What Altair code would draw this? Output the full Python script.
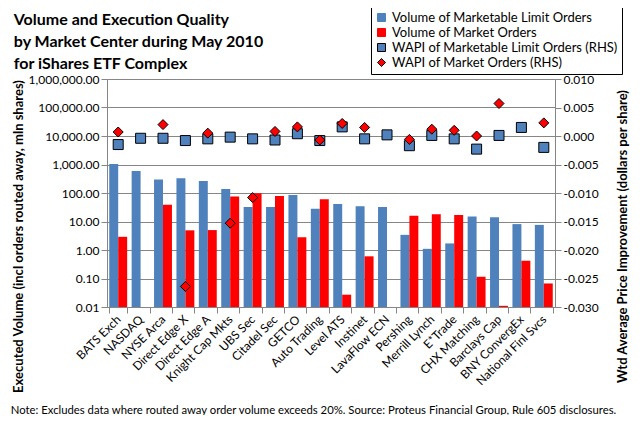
import altair as alt
import pandas as pd

categories = ["BATS Exch", "NASDAQ", "NYSE Arca", "Direct Edge X", "Direct Edge A",
              "Knight Cap Mkts", "UBS Sec", "Citadel Sec", "GETCO", "Auto Trading",
              "Level ATS", "Instinet", "LavaFlow ECN", "Pershing", "Merrill Lynch",
              "E*Trade", "CHX Matching", "Barclays Cap", "BNY ConvergEx", "National Finl Svcs"]

mlo_volume = [1050, 590, 300, 330, 265, 138, 32, 32, 85, 28,
              41, 34, 32, 3.4, 1.1, 1.7, 15, 14, 8.1, 7.6]
mo_volume = [2.9, None, 39, 4.9, 5.0, 75, 98, 78, 2.8, 60,
             0.027, 0.6, None, 16, 18, 17, 0.115, 0.011, 0.42, 0.067]
mlo_wapi = [-0.0015, -0.0004, -0.0004, -0.0008, -0.0005, -0.0002, -0.0005, -0.0007, 0.0004, -0.0008,
            0.0016, -0.0005, 0.0002, -0.0017, 0.0001, -0.0005, -0.0023, 0.0001, 0.0015, -0.0020]
mo_wapi = [0.0007, None, 0.0020, -0.0264, 0.0005, -0.0153, -0.0108, 0.0008, 0.0016, -0.0007,
           0.0022, 0.0015, None, -0.0006, 0.0012, 0.0010, 0.0000, 0.0057, None, 0.0023]

left_ticks = [0.01, 0.1, 1, 10, 100, 1000, 10000, 100000, 1000000]
right_ticks = [-0.030, -0.025, -0.020, -0.015, -0.010, -0.005, 0.000, 0.005, 0.010]
volume_floor = 0.01

series_names = ["Volume of Marketable Limit Orders", "Volume of Market Orders",
                "WAPI of Marketable Limit Orders (RHS)", "WAPI of Market Orders (RHS)"]

title_lines = ["Volume and Execution Quality", "by Market Center during May 2010",
               "for iShares ETF Complex"]
note_text = ("Note: Excludes data where routed away order volume exceeds 20%. "
             "Source: Proteus Financial Group, Rule 605 disclosures.")
left_title = "Executed Volume (incl orders routed away, mln shares)"
right_title = "Wtd Average Price Improvement (dollars per share)"

vol_rows = []
for s, vals in ((series_names[0], mlo_volume), (series_names[1], mo_volume)):
    for c, v in zip(categories, vals):
        if v is not None:
            vol_rows.append({"cat": c, "series": s, "v": v, "base": volume_floor})
vol_df = pd.DataFrame(vol_rows)

wapi_rows = []
for s, vals in ((series_names[2], mlo_wapi), (series_names[3], mo_wapi)):
    for c, v in zip(categories, vals):
        if v is not None:
            wapi_rows.append({"cat": c, "series": s, "w": v})
wapi_df = pd.DataFrame(wapi_rows)

FONT = "Lato"
AXIS_GRAY = "#868686"

color_scale = alt.Scale(domain=series_names, range=["#4F81BD", "#FF0000", "#4F81BD", "#FF0000"])
shape_scale = alt.Scale(domain=series_names, range=["square", "square", "square", "diamond"])
stroke_scale = alt.Scale(domain=series_names, range=["#4F81BD", "#FF0000", "#000000", "#000000"])

legend = alt.Legend(title=None, orient="none", legendX=264, legendY=-72,
                    strokeColor="black", fillColor="white", padding=4,
                    labelFont=FONT, labelFontSize=13, labelLimit=400, labelColor="black",
                    symbolSize=64, symbolStrokeWidth=1, rowPadding=1, labelOffset=4)

x_axis = alt.Axis(title=note_text, labelAngle=315, labelAlign="right", labelBaseline="middle",
                  labelFontSize=12, labelPadding=4, labelFont=FONT, labelColor="black",
                  tickBand="extent", tickSize=6, domainColor=AXIS_GRAY, tickColor=AXIS_GRAY,
                  titleX=206, titleY=103, titleBaseline="middle", titleFontWeight="normal",
                  titleFontSize=11.3, titleFont=FONT, titleColor="black", titleLimit=700)

x_enc = alt.X("cat:N", sort=categories,
              scale=alt.Scale(domain=categories, paddingInner=0.2, paddingOuter=0.1),
              axis=x_axis)

left_axis = alt.Axis(values=left_ticks, format=",.2f", grid=True, gridColor=AXIS_GRAY,
                     tickSize=6, domainColor=AXIS_GRAY, tickColor=AXIS_GRAY,
                     labelFontSize=12, labelFont=FONT, labelColor="black",
                     title=left_title, titleFontSize=13, titleFontWeight="bold", titleFont=FONT,
                     titleColor="black", titleX=-89, titleY=157, titleAngle=270,
                     titleBaseline="middle", titleAlign="center")

right_axis = alt.Axis(orient="right", values=right_ticks,
                      labelExpr="replace(format(datum.value, '.3f'), '\u2212', '-')",
                      grid=False, tickSize=6, domainColor=AXIS_GRAY, tickColor=AXIS_GRAY,
                      labelFontSize=12, labelFont=FONT, labelColor="black",
                      title=right_title, titleFontSize=13, titleFontWeight="bold", titleFont=FONT,
                      titleColor="black", titleX=67, titleY=157, titleAngle=270,
                      titleBaseline="middle", titleAlign="center")

bars = alt.Chart(vol_df).mark_bar(strokeWidth=0).encode(
    x=x_enc,
    xOffset=alt.XOffset("series:N", scale=alt.Scale(domain=series_names[:2])),
    y=alt.Y("v:Q", scale=alt.Scale(type="log", domain=[0.01, 1000000]), axis=left_axis),
    y2="base:Q",
    color=alt.Color("series:N", scale=color_scale, legend=legend),
    stroke=alt.Stroke("series:N", scale=stroke_scale, legend=legend),
)

points = alt.Chart(wapi_df).mark_point(filled=True, size=100, strokeWidth=1, opacity=1).encode(
    x=alt.X("cat:N", sort=categories),
    y=alt.Y("w:Q", scale=alt.Scale(domain=[-0.03, 0.01]), axis=right_axis),
    color=alt.Color("series:N", scale=color_scale, legend=legend),
    shape=alt.Shape("series:N", scale=shape_scale, legend=legend),
    stroke=alt.Stroke("series:N", scale=stroke_scale, legend=legend),
)

chart = alt.layer(bars, points).resolve_scale(y="independent").properties(
    width=448, height=228,
    autosize=alt.AutoSizeParams(type="none"),
    padding={"left": 99, "top": 71, "right": 77, "bottom": 108},
    title=alt.TitleParams(text=title_lines, anchor="start", fontSize=16, fontWeight="bold",
                          font=FONT, lineHeight=22, dx=4, dy=69, color="black"),
).configure_view(stroke=None).configure(background="white")

chart.save("out.html", embed_options={"renderer": "svg", "actions": False})
